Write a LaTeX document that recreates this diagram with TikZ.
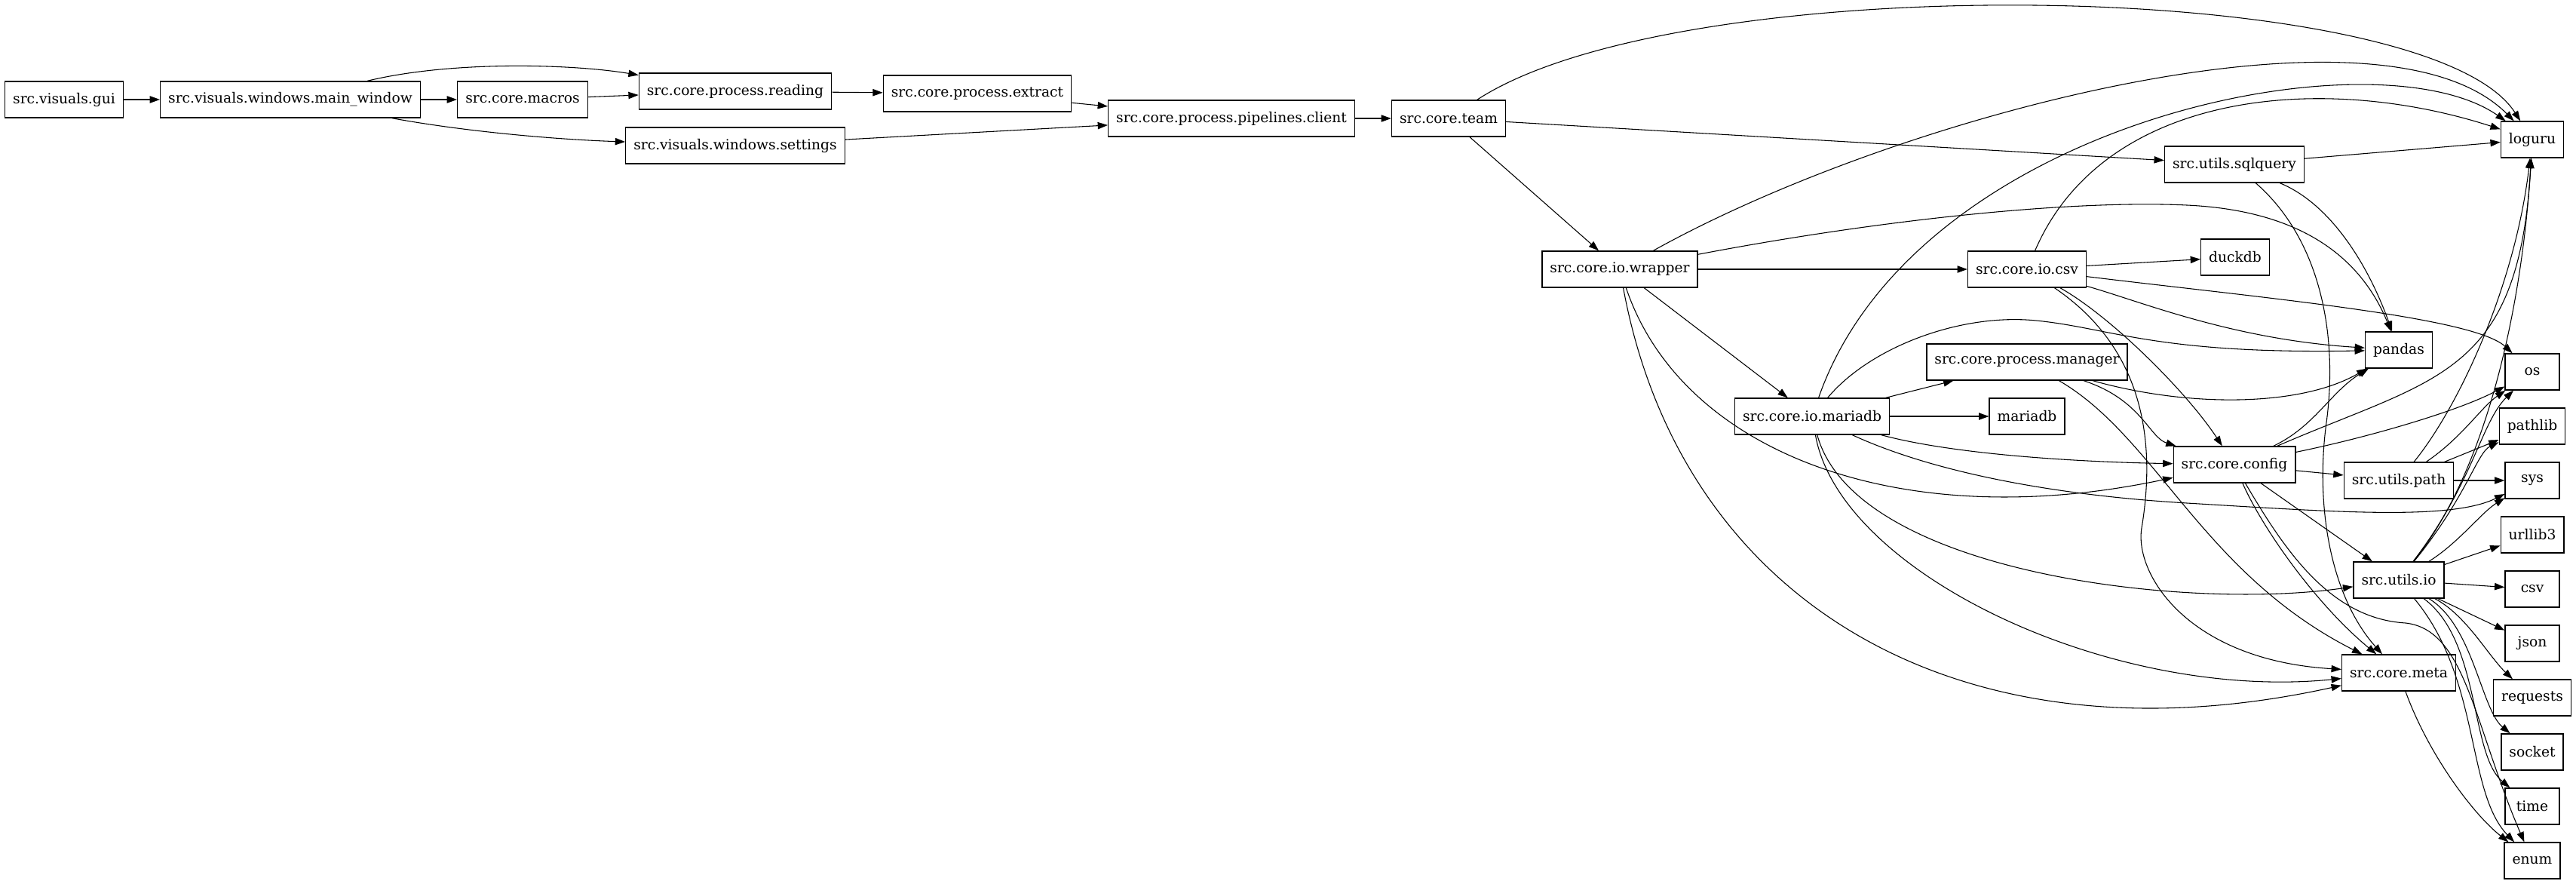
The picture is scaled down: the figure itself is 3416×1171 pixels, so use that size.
\documentclass[tikz,border=0pt]{standalone}
\usepackage{fontspec}
\setmainfont{DejaVu Serif}
\usetikzlibrary{arrows.meta}
\definecolor{boxline}{HTML}{000000}

\begin{document}
\begin{tikzpicture}[x=0.75pt,y=-0.75pt,
 mod/.style={draw=boxline,line width=1pt,minimum width=54pt,minimum height=36pt,inner xsep=7.9pt,font=\fontsize{14pt}{16pt}\selectfont},
 dep/.style={line width=.8pt,-{Triangle[length=10pt,width=7pt]}}]
 \useasboundingbox(0,0)rectangle(3416,1171);
 \node[mod](gui)at(85,132){src.visuals.gui};
 \node[mod](mainwin)at(385,132){src.visuals.windows.main\_window};
 \node[mod](macros)at(693,132){src.core.macros};
 \node[mod](reading)at(975,121){src.core.process.reading};
 \node[mod](settings)at(975,193){src.visuals.windows.settings};
 \node[mod](extract)at(1296,124){src.core.process.extract};
 \node[mod](client)at(1633,157){src.core.process.pipelines.client};
 \node[mod](team)at(1921,157){src.core.team};
 \node[mod](wrapper)at(2148,357){src.core.io.wrapper};
 \node[mod](iocsv)at(2688,357){src.core.io.csv};
 \node[mod](manager)at(2688,480){src.core.process.manager};
 \node[mod](iomariadb)at(2403,552){src.core.io.mariadb};
 \node[mod](mariadb)at(2688,552){mariadb};
 \node[mod](sqlquery)at(2963,218){src.utils.sqlquery};
 \node[mod](duckdb)at(2964,341){duckdb};
 \node[mod](config)at(2963,616){src.core.config};
 \node[mod](pandas)at(3181,464){pandas};
 \node[mod](upath)at(3181,637){src.utils.path};
 \node[mod](uio)at(3181,769){src.utils.io};
 \node[mod](meta)at(3181,892){src.core.meta};
 \node[mod](loguru)at(3358,185){loguru};
 \foreach \nm/\y in {os/493,pathlib/565,sys/637,urllib3/709,csv/781,json/853,requests/925,socket/997,time/1069,enum/1141}
  \node[mod](\nm)at(3358,\y){\nm};
 \foreach \a/\b in {gui/mainwin,mainwin/macros,macros/reading,reading/extract,extract/client,settings/client,client/team,team/sqlquery,team/wrapper,wrapper/iocsv,wrapper/iomariadb,iocsv/duckdb,iomariadb/manager,iomariadb/mariadb,sqlquery/loguru,config/upath,config/uio,upath/pathlib,upath/sys,uio/urllib3,uio/csv,uio/json}
  \draw[dep](\a)--(\b);
 \draw[dep](mainwin)..controls(600,80)and(760,85)..(reading);
 \draw[dep](mainwin)..controls(620,175)and(740,185)..(settings);
 \draw[dep](team)..controls(2230,-45)and(3220,-30)..(loguru);
 \draw[dep](wrapper)..controls(2520,150)and(3160,-15)..(loguru);
 \draw[dep](iomariadb)..controls(2540,160)and(3150,40)..(loguru);
 \draw[dep](iocsv)..controls(2790,120)and(3080,95)..(loguru);
 \draw[dep](config)..controls(3230,500)and(3340,500)..(loguru);
 \draw[dep](upath)..controls(3260,540)and(3335,380)..(loguru);
 \draw[dep](uio)..controls(3300,620)and(3345,400)..(loguru);
 \draw[dep](wrapper)..controls(2500,290)and(2750,265)..(2900,272)..controls(3050,279)and(3130,340)..(pandas);
 \draw[dep](wrapper)..controls(2230,600)and(2520,710)..(config);
 \draw[dep](wrapper)..controls(2230,800)and(2600,1020)..(meta);
 \draw[dep](sqlquery)..controls(3090,270)and(3140,350)..(pandas);
 \draw[dep](sqlquery)..controls(3080,320)and(3100,450)..(3085,560)..controls(3070,670)and(3090,790)..(meta);
 \draw[dep](iocsv)..controls(3000,395)and(3280,420)..(os);
 \draw[dep](iocsv)..controls(2840,400)and(2960,450)..(pandas);
 \draw[dep](iocsv)..controls(2800,420)and(2900,520)..(config);
 \draw[dep](iocsv)..controls(2840,460)and(2860,580)..(2840,700)..controls(2830,760)and(2900,875)..(meta);
 \draw[dep](manager)..controls(2900,540)and(3050,540)..(pandas);
 \draw[dep](manager)..controls(2840,530)and(2850,580)..(config);
 \draw[dep](manager)..controls(2860,580)and(2920,760)..(meta);
 \draw[dep](iomariadb)..controls(2480,460)and(2600,415)..(2700,425)..controls(2800,435)and(2860,470)..(pandas);
 \draw[dep](iomariadb)..controls(2600,605)and(2780,613)..(config);
 \draw[dep](iomariadb)..controls(2550,620)and(2700,655)..(2900,667)..controls(3100,679)and(3250,690)..(sys);
 \draw[dep](iomariadb)..controls(2460,760)and(2900,810)..(uio);
 \draw[dep](iomariadb)..controls(2440,760)and(2800,930)..(meta);
 \draw[dep](config)..controls(3070,565)and(3090,520)..(pandas);
 \draw[dep](config)..controls(3140,580)and(3260,545)..(os);
 \draw[dep](config)..controls(3000,700)and(3070,800)..(meta);
 \draw[dep](config)..controls(3030,730)and(3090,820)..(3190,826)..controls(3270,835)and(3280,960)..(enum);
 \draw[dep](upath)..controls(3265,580)and(3290,540)..(os);
 \draw[dep](uio)..controls(3280,640)and(3290,560)..(os);
 \draw[dep](uio)..controls(3270,660)and(3285,600)..(pathlib);
 \draw[dep](uio)..controls(3260,720)and(3290,680)..(sys);
 \draw[dep](uio)..controls(3270,815)and(3300,870)..(requests);
 \draw[dep](uio)..controls(3280,830)and(3290,940)..(socket);
 \draw[dep](uio)..controls(3290,850)and(3275,1000)..(time);
 \draw[dep](uio)..controls(3290,900)and(3270,1050)..(enum);
 \draw[dep](meta)..controls(3220,1000)and(3280,1080)..(enum);
\end{tikzpicture}
\end{document}
